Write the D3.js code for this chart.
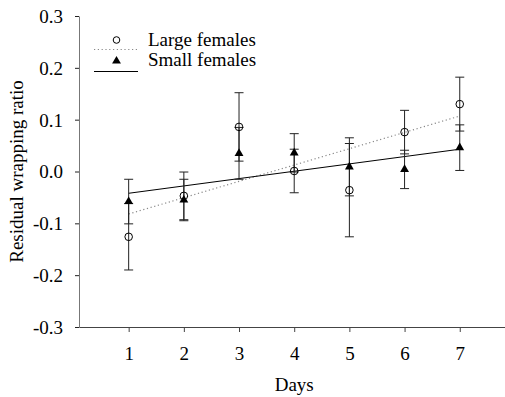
<!DOCTYPE html>
<html>
<head>
<meta charset="utf-8">
<script src="https://cdn.jsdelivr.net/npm/d3@7"></script>
<style>
  body { margin: 0; background: #fff; }
  svg text { font-family: "Liberation Serif", "Times New Roman", serif; fill: #000; }
</style>
</head>
<body>
<svg id="chart" width="505" height="397"></svg>
<script>
// valores
var days = [1, 2, 3, 4, 5, 6, 7];
var largeMean = [-0.126, -0.047, 0.086, 0.001, -0.036, 0.076, 0.130];
var largeSE   = [0.064, 0.046, 0.066, 0.042, 0.090, 0.042, 0.052];
var smallMean = [-0.058, -0.055, 0.035, 0.036, 0.009, 0.004, 0.046];
var smallSE   = [0.043, 0.040, 0.050, 0.037, 0.056, 0.037, 0.044];
// rectas de regresion (dia 1 y dia 7)
var fitDays  = [1, 7];
var largeFit = [-0.082, 0.107];
var smallFit = [-0.042, 0.043];
var yTicks = [-0.3, -0.2, -0.1, 0, 0.1, 0.2, 0.3];
var yTickLabels = ["-0.3", "-0.2", "-0.1", "0.0", "0.1", "0.2", "0.3"];

var svg = d3.select("#chart");

var x = d3.scaleLinear().domain([0.1, 7.82]).range([79, 505]);
var y = d3.scaleLinear().domain([-0.3, 0.3]).range([327, 16]);

var fs = "19px";

// ejes
var gy = svg.append("g").attr("transform", "translate(79,0)")
    .call(d3.axisLeft(y).tickValues(yTicks).tickSize(4).tickSizeOuter(0)
        .tickFormat(function (d, i) { return yTickLabels[i]; }));
gy.select(".domain").attr("stroke", "#777");
gy.selectAll(".tick line").attr("stroke", "#222");
gy.selectAll(".tick text").attr("font-size", fs).attr("x", -16).attr("dy", "0.34em")
    .attr("font-family", null);

var gx = svg.append("g").attr("transform", "translate(0,327)")
    .call(d3.axisBottom(x).tickValues(days).tickSize(5).tickSizeOuter(0)
        .tickFormat(d3.format("d")));
gx.select(".domain").attr("stroke", "#444");
gx.selectAll(".tick line").attr("stroke", "#444");
gx.selectAll(".tick text").attr("font-size", fs).attr("y", 20).attr("dy", "0.71em")
    .attr("font-family", null);

svg.append("text").attr("x", x(4)).attr("y", 391)
    .attr("text-anchor", "middle").attr("font-size", fs).text("Days");
svg.append("text")
    .attr("transform", "translate(23," + ((16 + 327) / 2) + ") rotate(-90)")
    .attr("text-anchor", "middle").attr("font-size", fs).text("Residual wrapping ratio");

// regresiones
var line = d3.line().x(function (d) { return x(d[0]); }).y(function (d) { return y(d[1]); });
svg.append("path").datum(d3.zip(fitDays, largeFit))
    .attr("d", line).attr("fill", "none").attr("stroke", "#888")
    .attr("stroke-width", 1.2).attr("stroke-dasharray", "1.2,2.6");
svg.append("path").datum(d3.zip(fitDays, smallFit))
    .attr("d", line).attr("fill", "none").attr("stroke", "#000").attr("stroke-width", 1);

// barras de error
function errorBars(mean, se) {
    var g = svg.append("g").attr("stroke", "#222").attr("stroke-width", 1);
    days.forEach(function (d, i) {
        var cx = x(d), top = y(mean[i] + se[i]), bot = y(mean[i] - se[i]);
        g.append("line").attr("x1", cx).attr("x2", cx).attr("y1", top).attr("y2", bot);
        g.append("line").attr("x1", cx - 4.5).attr("x2", cx + 4.5).attr("y1", top).attr("y2", top);
        g.append("line").attr("x1", cx - 4.5).attr("x2", cx + 4.5).attr("y1", bot).attr("y2", bot);
    });
}
errorBars(largeMean, largeSE);
errorBars(smallMean, smallSE);

var tri = d3.symbol().type(d3.symbolTriangle).size(34);

svg.append("g").selectAll("circle").data(days).enter().append("circle")
    .attr("cx", function (d) { return x(d); })
    .attr("cy", function (d, i) { return y(largeMean[i]); })
    .attr("r", 3.8).attr("fill", "none").attr("stroke", "#000").attr("stroke-width", 1);

svg.append("g").selectAll("path").data(days).enter().append("path")
    .attr("d", tri)
    .attr("transform", function (d, i) { return "translate(" + x(d) + "," + y(smallMean[i]) + ")"; })
    .attr("fill", "#000");

// leyenda
var leg = svg.append("g");
leg.append("circle").attr("cx", 116.5).attr("cy", 40).attr("r", 3.3)
    .attr("fill", "none").attr("stroke", "#000");
leg.append("line").attr("x1", 94).attr("x2", 138).attr("y1", 49.5).attr("y2", 49.5)
    .attr("stroke", "#888").attr("stroke-width", 1.2).attr("stroke-dasharray", "1.2,2.6");
leg.append("text").attr("x", 148).attr("y", 45.5).attr("font-size", fs).text("Large females");
leg.append("path").attr("d", tri).attr("transform", "translate(116.5,61)").attr("fill", "#000");
leg.append("line").attr("x1", 94).attr("x2", 138).attr("y1", 71.5).attr("y2", 71.5)
    .attr("stroke", "#000");
leg.append("text").attr("x", 148).attr("y", 66).attr("font-size", fs).text("Small females");
</script>
</body>
</html>
